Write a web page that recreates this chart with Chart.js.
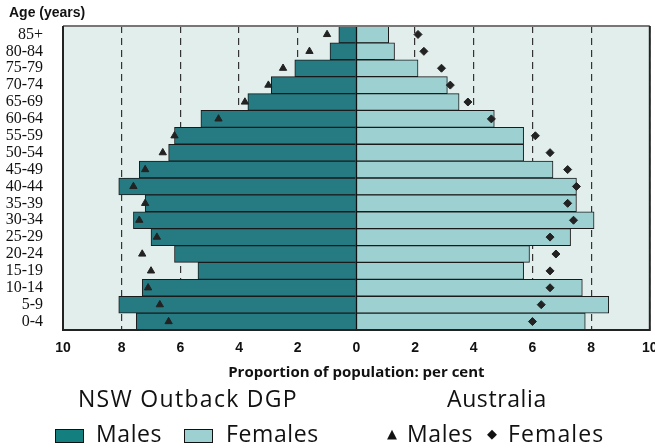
<!DOCTYPE html>
<html><head><meta charset="utf-8">
<script src="https://cdn.jsdelivr.net/npm/chart.js@4.4.1/dist/chart.umd.min.js"></script>
<style>
html,body{margin:0;padding:0;background:#fff;}
#wrap{position:relative;width:655px;height:448px;}
canvas{position:absolute;left:0;top:0;}
.t{position:absolute;white-space:nowrap;color:#111;}
#age{left:9px;top:4px;font:bold 14px "Liberation Sans",Arial,sans-serif;}
.big{font-family:"Open Sans","Noto Sans",sans-serif;font-size:23px;line-height:1;letter-spacing:0.6px;}
.sq{position:absolute;width:27px;height:12px;border:1.5px solid #111;}
.sym{position:absolute;font-size:13px;line-height:1;color:#111;font-family:"DejaVu Sans",sans-serif;}
</style></head>
<body>
<div id="wrap">
<canvas id="c" width="655" height="448"></canvas>
<div class="t" id="age">Age (years)</div>
<div class="t big" style="left:78px;top:387px;letter-spacing:1.3px;">NSW Outback DGP</div>
<div class="t big" style="left:447px;top:387px;">Australia</div>
<div class="sq" style="left:55px;top:429px;background:#13807f;"></div>
<div class="t big" style="left:96px;top:422px;">Males</div>
<div class="sq" style="left:184px;top:429px;background:#9dd0d0;"></div>
<div class="t big" style="left:226px;top:422px;">Females</div>
<div class="sym" style="left:387px;top:427px;">▲</div>
<div class="t big" style="left:407px;top:422px;">Males</div>
<div class="sym" style="left:487px;top:427px;">◆</div>
<div class="t big" style="left:508px;top:422px;letter-spacing:1.1px;">Females</div>
</div>
<script>
const ageGroups = ['85+','80-84','75-79','70-74','65-69','60-64','55-59','50-54','45-49','40-44','35-39','30-34','25-29','20-24','15-19','10-14','5-9','0-4'];
const dgpMales   = [0.6,0.9,2.1,2.9,3.7,5.3,6.2,6.4,7.4,8.1,7.2,7.6,7.0,6.2,5.4,7.3,8.1,7.5];
const dgpFemales = [1.1,1.3,2.1,3.1,3.5,4.7,5.7,5.7,6.7,7.5,7.5,8.1,7.3,5.9,5.7,7.7,8.6,7.8];
const ausMales   = [1.0,1.6,2.5,3.0,3.8,4.7,6.2,6.6,7.2,7.6,7.2,7.4,6.8,7.3,7.0,7.1,6.7,6.4];
const ausFemales = [2.1,2.3,2.9,3.2,3.8,4.6,6.1,6.6,7.2,7.5,7.2,7.4,6.6,6.8,6.6,6.6,6.3,6.0];
const xTicks = [-10,-8,-6,-4,-2,0,2,4,6,8,10];

const neg = a => a.map(v => -v);

const bgPlugin = {
  id:'bg',
  beforeDraw(chart){
    const {ctx, chartArea:a} = chart;
    ctx.save();
    ctx.fillStyle = '#e1eeec';
    ctx.fillRect(a.left, a.top, a.right-a.left, a.bottom-a.top);
    ctx.restore();
  },
  afterDatasetsDraw(chart){
    const {ctx, chartArea:a, scales} = chart;
    ctx.save();
    const x0 = scales.x.getPixelForValue(0);
    ctx.strokeStyle = '#111'; ctx.lineWidth = 1.5;
    ctx.beginPath(); ctx.moveTo(x0, a.top); ctx.lineTo(x0, a.bottom); ctx.stroke();
    ctx.lineWidth = 2;
    ctx.strokeStyle = '#777';
    ctx.beginPath(); ctx.moveTo(a.left, a.top); ctx.lineTo(a.right, a.top); ctx.stroke();
    ctx.strokeStyle = '#222';
    ctx.beginPath(); ctx.moveTo(a.right, a.top); ctx.lineTo(a.right, a.bottom); ctx.lineTo(a.left, a.bottom); ctx.lineTo(a.left, a.top); ctx.stroke();
    ctx.restore();
  }
};

new Chart(document.getElementById('c'), {
  type:'bar',
  data:{
    labels: ageGroups,
    datasets:[
      {type:'line', indexAxis:'y', label:'Australia Males', data:neg(ausMales), showLine:false,
       pointStyle:'triangle', pointRadius:4.2, pointBackgroundColor:'#222', pointBorderColor:'#222', pointBorderWidth:1, order:0},
      {type:'line', indexAxis:'y', label:'Australia Females', data:ausFemales, showLine:false,
       pointStyle:'rectRot', pointRadius:4, pointBackgroundColor:'#222', pointBorderColor:'#222', pointBorderWidth:1, order:0},
      {label:'Males', data:neg(dgpMales), backgroundColor:'#267a82', borderColor:'#1a1a1a', borderWidth:1,
       barPercentage:1, categoryPercentage:1, grouped:false, order:1},
      {label:'Females', data:dgpFemales, backgroundColor:'#9dd0d1', borderColor:'#1a1a1a', borderWidth:1,
       barPercentage:1, categoryPercentage:1, grouped:false, order:1}
    ]
  },
  options:{
    indexAxis:'y',
    responsive:false,
    animation:false,
    layout:{padding:{top:26,right:5,left:0,bottom:66}},
    plugins:{legend:{display:false}, tooltip:{enabled:false}},
    scales:{
      x:{
        min:-10, max:10,
        afterBuildTicks: s => { s.ticks = xTicks.map(v => ({value:v})); },
        afterFit: s => { s.height = 52; s.paddingLeft = 0; s.paddingRight = 0; },
        border:{display:false, dash:[7,5]},
        grid:{color:'#333', lineWidth:1.2, drawTicks:false},
        ticks:{callback: v => Math.abs(v), color:'#111', padding:10,
               font:{family:'"Liberation Sans", Arial, sans-serif', size:14, weight:'bold'}},
        title:{display:true, text:'Proportion of population: per cent', color:'#111', padding:{top:2,bottom:0},
               font:{family:'"Open Sans","Noto Sans", sans-serif', size:15, weight:'bold'}}
      },
      y:{
        afterFit: s => { s.width = 63; },
        border:{display:false},
        grid:{display:false},
        ticks:{color:'#111', padding:12, autoSkip:false,
               font:{family:'"Liberation Serif","Times New Roman",serif', size:16}}
      }
    }
  },
  plugins:[bgPlugin]
});
</script>
</body></html>
